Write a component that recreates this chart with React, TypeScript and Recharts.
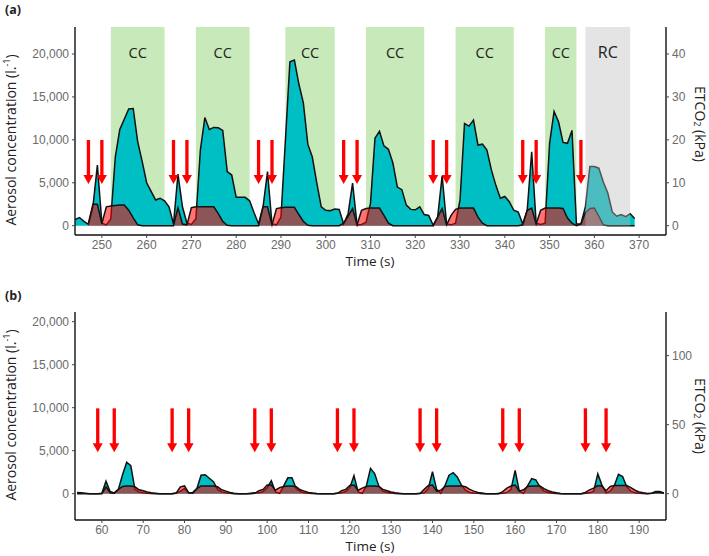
import React from 'react';
import { ComposedChart, Area, XAxis, YAxis, ReferenceArea, ReferenceDot } from 'recharts';

const startA = 244;
const tealA = [
  700, 950, 500, 150, 2200, 7050,
  300, 100, 800, 8000, 11200, 12400, 13600, 13650, 9800, 7500,
  5000, 4000, 3000, 3200, 2900, 2200, 200, 6000, 2200, 300,
  150, 800, 8800, 12600, 11200, 11450, 11400, 11100, 6300, 5900,
  3300, 3300, 3300, 2900, 1500, 200, 2200, 6300, 200, 100,
  1000, 10000, 19100, 19300, 16500, 14300, 9500, 8000, 5000, 2200,
  1800, 1750, 1950, 1900, 200, 1400, 4950, 100, 150, 400,
  2600, 10200, 11000, 9300, 8900, 7300, 4500, 4200, 2400, 1900,
  1850, 2200, 1300, 1200, 50, 1000, 5800, 200, 100, 300,
  3000, 11900, 11600, 12300, 9400, 9500, 8800, 6500, 4700, 3200,
  3400, 2800, 1800, 1600, 200, 1800, 8600, 300, 150, 300,
  9600, 13300, 12100, 9700, 9600, 11100, 200, 200, 2200, 6900,
  6900, 6700, 5100, 3800, 1600, 1100, 1300, 1050, 1400, 850,
];
const redA = [
  null, null, null, 300, 2500, 2500,
  250, 2200, 2300, 2350, 2400, 2400, 1800, 900, 100, 0,
  0, 0, 0, 0, 0, 0, 0, 2100, 200, 100,
  2100, 2200, 2200, 2200, 2200, 2200, 1400, 500, 50, 0,
  0, 0, 0, 0, 0, 0, 2200, 2200, 100, 2000,
  2100, 2150, 2150, 2150, 1300, 500, 50, 0, 0, 0,
  0, 0, 0, 0, 300, 1100, 2000, 100, 1800, 2000,
  2050, 2050, 2050, 1200, 300, 0, 0, 0, 0, 0,
  0, 0, 0, 0, 0, 1000, 2000, 100, 1200, 1900,
  2050, 2050, 2050, 2050, 1000, 300, 0, 0, 0, 0,
  0, 0, 0, 0, 100, 1800, 2050, 200, 1800, 2050,
  2050, 2050, 2050, 2000, 900, 300, 0, 200, 1500, 2000,
  2050, 1100, 100, 0, 0, 0, 0, 0, 0, 0,
];
const startB = 54;
const tealB = [
  150, 100, 50, 0, 0, 0,
  50, 1450, 250, 100, 500, 2200, 3650, 3250, 500, 200,
  100, 50, 20, 0, 0, 0, 0, 0, 50, 300,
  600, 100, 150, 600, 2150, 2200, 1800, 1400, 500, 200,
  100, 50, 0, 0, 0, 0, 50, 100, 100, 250,
  700, 1500, 200, 50, 900, 1850, 1850, 600, 250, 100,
  50, 20, 0, 0, 0, 0, 0, 50, 100, 250,
  700, 2100, 200, 50, 900, 2950, 2350, 900, 300, 150,
  80, 30, 0, 0, 0, 0, 0, 50, 100, 600,
  2550, 500, 50, 900, 2150, 2450, 1950, 1000, 400, 150,
  80, 40, 0, 0, 0, 0, 30, 50, 150, 500,
  2700, 300, 50, 900, 1750, 1600, 800, 300, 150, 60,
  30, 0, 0, 0, 0, 0, 0, 50, 100, 300,
  2300, 1000, 100, 300, 950, 2250, 2000, 800, 300, 100,
  50, 20, 0, 50, 250, 250, 100,
];
const redB = [
  0, 0, 0, 0, 0, 0,
  0, 800, 100, 50, 500, 850, 900, 900, 800, 450,
  350, 200, 100, 50, 0, 0, 0, 0, 100, 800,
  900, 100, 50, 600, 900, 900, 900, 900, 800, 450,
  300, 150, 60, 0, 0, 0, 0, 50, 350, 500,
  1000, 1000, 400, 700, 850, 900, 900, 800, 450, 300,
  150, 80, 30, 0, 0, 0, 0, 50, 350, 500,
  950, 1000, 400, 650, 850, 900, 900, 850, 500, 350,
  200, 100, 40, 0, 0, 0, 0, 30, 500, 950,
  1000, 300, 400, 850, 900, 900, 900, 900, 800, 500,
  300, 150, 80, 0, 0, 0, 0, 250, 650, 900,
  1000, 300, 450, 850, 900, 900, 900, 600, 350, 200,
  100, 30, 0, 0, 0, 0, 0, 150, 450, 650,
  950, 900, 350, 850, 950, 950, 950, 950, 700, 400,
  200, 100, 30, 50, 150, 150, 50,
];

const arrowsA = [247, 250, 266, 269, 285, 288, 304, 307, 324, 327, 344, 347, 357];
const arrowsB = [59, 63, 77, 81, 97, 101, 117, 121, 137, 141, 157, 161, 177, 182];
const ccBands = [[252, 264], [271, 283], [291, 302], [309, 322], [329, 342], [349, 356]];
const rcBand = [358, 368];
const aerosolTicks = [0, 5000, 10000, 15000, 20000];
const xTicksA = [250, 260, 270, 280, 290, 300, 310, 320, 330, 340, 350, 360, 370];
const xTicksB = [60, 70, 80, 90, 100, 110, 120, 130, 140, 150, 160, 170, 180, 190];
const etco2TicksA = [0, 10, 20, 30, 40];
const etco2TicksB = [0, 50, 100];

const rows = (start: number, teal: number[], red: (number | null)[]) =>
  teal.map((v, i) => ({ t: start + i, aerosol: v, other: red[i] }));

const dataA = rows(startA, tealA, redA);
const dataB = rows(startB, tealB, redB);

const SANS = '"Liberation Sans", Arial, sans-serif';
const TITLE = '"Open Sans", sans-serif';
const tick = { fill: '#6a6a6a', fontSize: 12, fontFamily: SANS };
const axisLine = { stroke: '#111', strokeWidth: 1.4 };
const tickLine = { stroke: '#444', strokeWidth: 1 };

const Arrow = (props: any) => {
  const { cx, cy } = props;
  return (
    <g>
      <line x1={cx} x2={cx} y1={cy - 44} y2={cy - 8} stroke="#ff0000" strokeWidth={3.3} />
      <polygon points={`${cx - 5},${cy - 9} ${cx + 5},${cy - 9} ${cx},${cy}`} fill="#ff0000" />
    </g>
  );
};

const LeftTitle = ({ cy }: { cy: number }) => (
  <text
    transform={`translate(12 ${cy}) rotate(-90)`}
    textAnchor="middle"
    dominantBaseline="middle"
    fontFamily={TITLE}
    fontSize={14}
    fill="#222"
  >
    Aerosol concentration (l.
    <tspan dy={-4} fontSize={9}>-1</tspan>
    <tspan dy={4}>)</tspan>
  </text>
);

const RightTitle = ({ cy }: { cy: number }) => (
  <text
    transform={`translate(699 ${cy}) rotate(90)`}
    textAnchor="middle"
    dominantBaseline="middle"
    fontFamily={TITLE}
    fontSize={14}
    fill="#222"
  >
    ETCO
    <tspan dy={3} fontSize={9}>2</tspan>
    <tspan dy={-3}> (kPa)</tspan>
  </text>
);

const fmt = (v: number) => v.toLocaleString('en-US');

function Panel(props: {
  data: any[];
  height: number;
  bottom: number;
  xDomain: number[];
  xTicks: number[];
  yDomain: number[];
  rightDomain: number[];
  rightTicks: number[];
  arrows: number[];
  arrowTip: number;
  bands?: boolean;
  leftCy: number;
  rightCy: number;
}) {
  const p = props;
  return (
    <ComposedChart
      width={709}
      height={p.height}
      data={p.data}
      margin={{ top: 27, right: 0, bottom: 0, left: 0 }}
    >
      <XAxis
        dataKey="t"
        type="number"
        domain={p.xDomain}
        ticks={p.xTicks}
        allowDataOverflow
        height={p.bottom}
        tick={tick}
        tickSize={3}
        tickMargin={2}
        axisLine={axisLine}
        tickLine={tickLine}
        label={() => (
          <text x={370} y={p.height - p.bottom + 27} textAnchor="middle" dominantBaseline="middle" fontFamily={TITLE} fontSize={13.5} fill="#222">
            Time (s)
          </text>
        )}
      />
      <YAxis
        yAxisId="left"
        width={75}
        domain={p.yDomain}
        ticks={aerosolTicks}
        allowDataOverflow
        tickFormatter={fmt}
        tick={tick}
        tickSize={3}
        tickMargin={3}
        axisLine={axisLine}
        tickLine={tickLine}
        label={() => <LeftTitle cy={p.leftCy} />}
      />
      <YAxis
        yAxisId="right"
        orientation="right"
        width={43}
        domain={p.rightDomain}
        ticks={p.rightTicks}
        allowDataOverflow
        tick={tick}
        tickSize={3}
        tickMargin={3}
        axisLine={axisLine}
        tickLine={tickLine}
        label={() => <RightTitle cy={p.rightCy} />}
      />
      {p.bands &&
        ccBands.map(([a, b]) => (
          <ReferenceArea
            key={a}
            yAxisId="left"
            x1={a}
            x2={b}
            y1={0}
            y2={p.yDomain[1]}
            fill="#c8e9b9"
            fillOpacity={1}
            stroke="none"
            label={{ value: 'CC', position: 'insideTop', offset: 21, fontFamily: TITLE, fontSize: 14.5, fill: '#222' }}
          />
        ))}
      <Area
        yAxisId="left"
        dataKey="aerosol"
        type="linear"
        fill="#00bfc4"
        fillOpacity={1}
        stroke="#111"
        strokeWidth={1.5}
        dot={false}
        activeDot={false}
        isAnimationActive={false}
      />
      <Area
        yAxisId="left"
        dataKey="other"
        type="linear"
        fill="#ff0000"
        fillOpacity={0.55}
        stroke="#111"
        strokeWidth={1.5}
        dot={false}
        activeDot={false}
        isAnimationActive={false}
      />
      {p.bands && (
        <ReferenceArea
          yAxisId="left"
          x1={rcBand[0]}
          x2={rcBand[1]}
          y1={0}
          y2={p.yDomain[1]}
          fill="#bbbbbb"
          fillOpacity={0.4}
          stroke="none"
          label={{ value: 'RC', position: 'insideTop', offset: 20, fontFamily: TITLE, fontSize: 16, fill: '#222' }}
        />
      )}
      {p.arrows.map((t) => (
        <ReferenceDot key={t} yAxisId="left" x={t} y={p.arrowTip} r={0} shape={Arrow} />
      ))}
    </ComposedChart>
  );
}

const tagStyle: React.CSSProperties = {
  position: 'absolute',
  left: 5,
  fontFamily: TITLE,
  fontWeight: 700,
  fontSize: 12.5,
  color: '#222',
};

export default function App() {
  return (
    <div style={{ position: 'absolute', left: 0, top: 0, width: 709, height: 556, background: '#fff', overflow: 'hidden' }}>
      <div style={{ ...tagStyle, top: 1 }}>(a)</div>
      <div style={{ ...tagStyle, top: 287 }}>(b)</div>
      <div style={{ position: 'absolute', left: 0, top: 0 }}>
        <Panel
          data={dataA}
          height={280}
          bottom={45}
          xDomain={[244, 376]}
          xTicks={xTicksA}
          yDomain={[-1084, 23145]}
          rightDomain={[-2.168, 46.29]}
          rightTicks={etco2TicksA}
          arrows={arrowsA}
          arrowTip={4860}
          bands
          leftCy={140}
          rightCy={124}
        />
      </div>
      <div style={{ position: 'absolute', left: 0, top: 285 }}>
        <Panel
          data={dataB}
          height={271}
          bottom={36}
          xDomain={[53.5, 196.5]}
          xTicks={xTicksB}
          yDomain={[-3058, 21128]}
          rightDomain={[-19.05, 131.6]}
          rightTicks={etco2TicksB}
          arrows={arrowsB}
          arrowTip={4810}
          leftCy={130}
          rightCy={131}
        />
      </div>
    </div>
  );
}
